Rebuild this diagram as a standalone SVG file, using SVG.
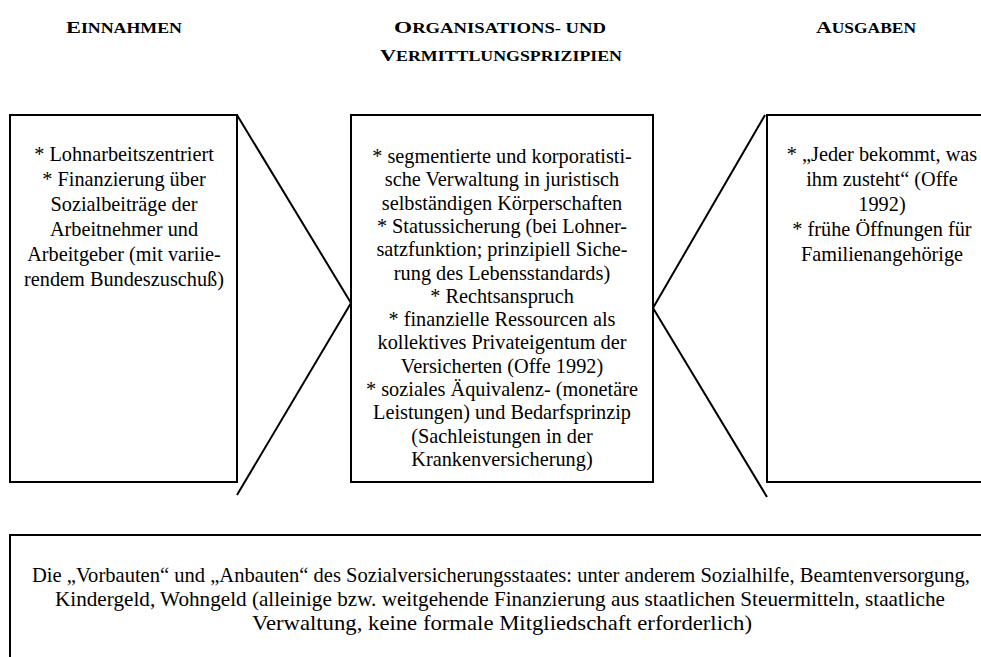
<svg xmlns="http://www.w3.org/2000/svg" width="981" height="657" viewBox="0 0 981 657">
<style>
.box{fill:none;stroke:#000;stroke-width:2}
.con{fill:none;stroke:#000;stroke-width:2;stroke-linejoin:miter}
.t{font-family:"Liberation Serif","Times New Roman",serif;font-size:20.3px;fill:#000;text-anchor:middle}
.b{font-size:20.6px}
.h{font-family:"Liberation Serif","Times New Roman",serif;font-weight:bold;fill:#000;text-anchor:middle}
.big{font-size:17.5px}
.sc{font-size:14px}
</style>
<rect width="981" height="657" fill="#fff"/>
<g id="headers">
<text class="h" x="124" y="33" textLength="116" lengthAdjust="spacingAndGlyphs"><tspan class="big">E</tspan><tspan class="sc">INNAHMEN</tspan></text>
<text class="h" x="500" y="33" textLength="212" lengthAdjust="spacingAndGlyphs"><tspan class="big">O</tspan><tspan class="sc">RGANISATIONS- UND</tspan></text>
<text class="h" x="501" y="61" textLength="242" lengthAdjust="spacingAndGlyphs"><tspan class="big">V</tspan><tspan class="sc">ERMITTLUNGSPRIZIPIEN</tspan></text>
<text class="h" x="866" y="33" textLength="100" lengthAdjust="spacingAndGlyphs"><tspan class="big">A</tspan><tspan class="sc">USGABEN</tspan></text>
</g>
<g id="connectors">
<polyline class="con" points="237,115 351,303 237,495"/>
<polyline class="con" points="765,115 653,308 767,497"/>
</g>
<g id="einnahmen">
<rect class="box" x="10" y="115" width="227" height="367"/>
<text class="t" x="124" y="161">* Lohnarbeitszentriert</text>
<text class="t" x="124" y="186">* Finanzierung über</text>
<text class="t" x="124" y="211">Sozialbeiträge der</text>
<text class="t" x="124" y="236">Arbeitnehmer und</text>
<text class="t" x="124" y="261">Arbeitgeber (mit variie-</text>
<text class="t" x="124" y="286">rendem Bundeszuschuß)</text>
</g>
<g id="prinzipien">
<rect class="box" x="351" y="115" width="302" height="367"/>
<text class="t" x="502" y="163">* segmentierte und korporatisti-</text>
<text class="t" x="502" y="186.3">sche Verwaltung in juristisch</text>
<text class="t" x="502" y="209.6">selbständigen Körperschaften</text>
<text class="t" x="502" y="232.9">* Statussicherung (bei Lohner-</text>
<text class="t" x="502" y="256.2">satzfunktion; prinzipiell Siche-</text>
<text class="t" x="502" y="279.5">rung des Lebensstandards)</text>
<text class="t" x="502" y="302.8">* Rechtsanspruch</text>
<text class="t" x="502" y="326.1">* finanzielle Ressourcen als</text>
<text class="t" x="502" y="349.4">kollektives Privateigentum der</text>
<text class="t" x="502" y="372.7">Versicherten (Offe 1992)</text>
<text class="t" x="502" y="396">* soziales Äquivalenz- (monetäre</text>
<text class="t" x="502" y="419.3">Leistungen) und Bedarfsprinzip</text>
<text class="t" x="502" y="442.6">(Sachleistungen in der</text>
<text class="t" x="502" y="465.9">Krankenversicherung)</text>
</g>
<g id="ausgaben">
<polyline class="box" points="982,115 767,115 767,482 982,482"/>
<text class="t" x="882" y="161">* „Jeder bekommt, was</text>
<text class="t" x="882" y="186">ihm zusteht“ (Offe</text>
<text class="t" x="882" y="211">1992)</text>
<text class="t" x="882" y="236">* frühe Öffnungen für</text>
<text class="t" x="882" y="261">Familienangehörige</text>
</g>
<g id="staat">
<polyline class="box" points="982,535 10,535 10,658"/>
<text class="t b" x="501" y="582" textLength="938" lengthAdjust="spacingAndGlyphs">Die „Vorbauten“ und „Anbauten“ des Sozialversicherungsstaates: unter anderem Sozialhilfe, Beamtenversorgung,</text>
<text class="t b" x="500" y="606" textLength="890" lengthAdjust="spacingAndGlyphs">Kindergeld, Wohngeld (alleinige bzw. weitgehende Finanzierung aus staatlichen Steuermitteln, staatliche</text>
<text class="t b" x="502" y="630" textLength="500" lengthAdjust="spacingAndGlyphs">Verwaltung, keine formale Mitgliedschaft erforderlich)</text>
</g>
</svg>
